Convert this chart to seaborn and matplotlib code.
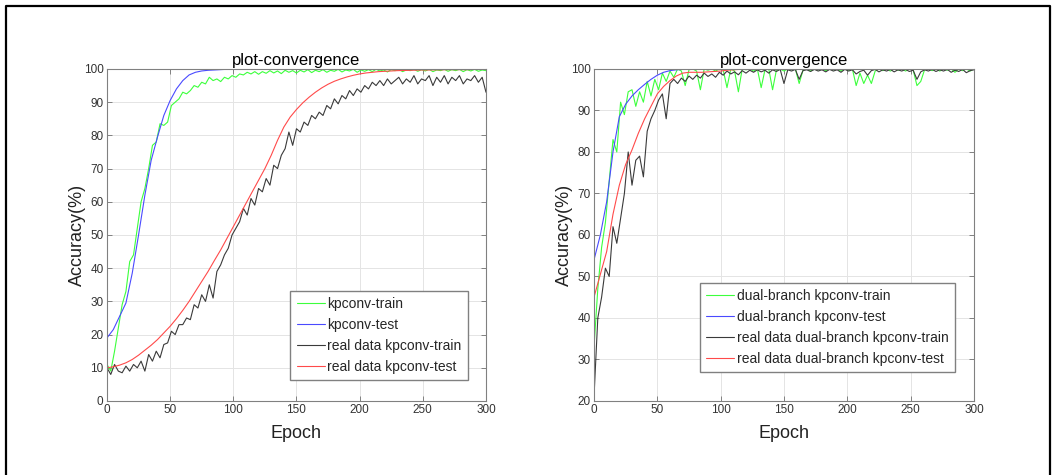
import matplotlib
matplotlib.use('Agg')
import matplotlib.pyplot as plt
import seaborn as sns
from matplotlib.lines import Line2D

sns.set_theme(style='ticks')
plt.rcParams['font.family'] = ['Liberation Sans', 'DejaVu Sans']

# epochs: noisy train curves read every 3 epochs, smooth test curves every 5
epochs_noisy = list(range(0, 301, 3))
epochs_smooth = list(range(0, 301, 5))

# ---- left panel: kpconv ----
kp_train = [11, 9, 15, 22, 29, 33, 42, 44, 52, 60,
            64, 70, 77, 78, 83.5, 83, 84, 89, 90, 91,
            93, 92.5, 93.5, 95, 94.5, 96, 95.5, 97.5, 96.5, 97,
            96.2, 97.5, 97, 98, 97.5, 98.5, 98.2, 99, 98.5, 99.2,
            98.4, 99.2, 98.7, 99.5, 98.8, 99.4, 98.6, 99.6, 99, 99.5,
            98.8, 99.6, 99.1, 99.8, 98.9, 99.6, 99.2, 99.8, 99, 99.6,
            99.3, 99.9, 99.1, 99.7, 99.4, 99.9, 99, 99.7, 99.3, 99.8,
            99.2, 99.9, 99.4, 99.7, 99.1, 99.8, 99.5, 99.9, 99.2, 99.7,
            99.5, 99.9, 99.3, 99.8, 99.4, 99.9, 99.2, 99.7, 99.5, 99.9,
            99.3, 99.8, 99.5, 99.9, 99.2, 99.8, 99.4, 99.9, 99.3, 99.7,
            99.5]
kp_test = [19, 21.5, 25.5, 29.5, 38.5, 50, 62, 72.5, 79.5, 86,
           90.5, 94, 96.5, 98.2, 99, 99.4, 99.6, 99.7, 99.8, 99.9,
           100, 100, 100, 100, 100, 100, 100, 100, 100, 100,
           100, 100, 100, 100, 100, 100, 100, 100, 100, 100,
           100, 100, 100, 100, 100, 100, 100, 100, 100, 100,
           100, 100, 100, 100, 100, 100, 100, 100, 100, 100,
           100]
real_kp_train = [10, 8, 11, 9, 8.5, 10.5, 9, 11, 10, 12,
                 9, 14, 12, 15, 13, 17, 17.5, 21, 20, 23,
                 23, 25, 24.5, 29, 28, 32, 30, 35, 31, 39,
                 41, 44, 46, 50, 52, 54, 58, 56, 61, 59,
                 64, 63, 67, 65, 71, 70, 74, 76, 81, 77,
                 82, 81, 84, 83, 86, 85, 87, 86, 89, 88,
                 91, 89.5, 92, 91, 93.5, 92, 94, 93, 95, 94,
                 96, 95, 96.5, 95, 97, 95.5, 96.5, 97.5, 95.5, 97,
                 96, 98, 95.5, 97, 96.5, 98, 95, 97.5, 96, 98,
                 95.5, 97.5, 96.5, 98, 95.5, 97, 96.5, 98, 96, 97.5,
                 93]
real_kp_test = [10, 10.3, 10.8, 11.5, 12.5, 13.8, 15.3, 16.8, 18.5, 20.5,
                22.5, 24.8, 27.3, 30, 33, 36, 39, 42.3, 45.5, 49,
                52.5, 56, 59.5, 63, 66.5, 70, 74, 78.5, 82.5, 85.5,
                87.8, 89.8, 91.5, 93, 94.3, 95.4, 96.3, 97, 97.6, 98.1,
                98.5, 98.8, 99, 99.2, 99.3, 99.4, 99.5, 99.55, 99.6, 99.65,
                99.7, 99.7, 99.75, 99.75, 99.8, 99.8, 99.8, 99.8, 99.85, 99.85,
                99.85]

# ---- right panel: dual-branch kpconv ----
db_train = [33, 47, 57, 63, 73, 83, 80, 92, 89, 94.5,
            95, 91, 94.5, 92, 97, 93.5, 97.5, 95, 99, 97,
            99.5, 98, 100, 99.5, 96, 99.8, 100, 99.5, 95, 100,
            99.7, 100, 99.5, 100, 99.8, 95.5, 100, 99.5, 94.5, 100,
            99.8, 100, 99.5, 100, 95.5, 99.8, 100, 95, 99.7, 100,
            99.5, 100, 99.8, 100, 96.5, 99.7, 100, 99.5, 100, 99.8,
            100, 99.6, 100, 99.8, 100, 99.5, 100, 99.7, 100, 96,
            99, 96.5, 98.5, 96.5, 99.5, 100, 99.6, 100, 99.5, 100,
            99.7, 100, 99.5, 100, 99.8, 96, 97, 99.8, 100, 99.6,
            100, 99.5, 100, 99.7, 100, 99.2, 100, 99.6, 100, 99.5,
            100]
db_test = [54, 60, 68, 80, 88.5, 91.5, 93.5, 95, 96.3, 97.5,
           98.5, 99.2, 99.6, 99.8, 99.9, 100, 100, 100, 100, 100,
           100, 100, 100, 100, 100, 100, 100, 100, 100, 100,
           100, 100, 100, 100, 100, 100, 100, 100, 100, 100,
           100, 100, 100, 100, 100, 100, 100, 100, 100, 100,
           100, 100, 100, 100, 100, 100, 100, 100, 100, 100,
           100]
real_db_train = [21, 40, 45, 52, 50, 62, 58, 64, 70, 80,
                 72, 78, 79, 74, 85, 88, 90, 92.5, 94, 88,
                 96.5, 97.5, 96.5, 97.8, 97, 98.3, 97.5, 98.5, 97.8, 99,
                 98.2, 98.8, 98, 99.2, 98.5, 99.5, 98.8, 99.3, 98.6, 99.6,
                 99, 99.7, 99.2, 99.8, 99.3, 99.7, 99, 99.8, 99.4, 99.9,
                 96.5, 99.8, 99.5, 99.9, 97.5, 99.6, 99.8, 99.4, 99.9, 99.5,
                 99.8, 99.3, 99.9, 99.5, 99.8, 99.2, 99.9, 99.5, 99.8, 98.8,
                 99.4, 99.7, 98.5, 99.6, 99.9, 99.3, 99.8, 99.5, 99.9, 99.3,
                 99.8, 99.5, 99.9, 99.4, 99.7, 97.5, 99.3, 99.8, 99.5, 99.9,
                 99.4, 99.8, 99.5, 99.9, 99.2, 99.7, 99.4, 99.9, 99.1, 99.6,
                 99.8]
real_db_test = [45, 50.5, 56, 65, 72, 77, 80.5, 84.5, 88, 91,
                94, 95.8, 97.2, 98.3, 99, 99.2, 99.2, 99.2, 99.3, 99.4,
                99.5, 99.7, 99.8, 99.9, 100, 100, 100, 100, 100, 100,
                100, 100, 100, 100, 100, 100, 100, 100, 100, 100,
                100, 100, 100, 100, 100, 100, 100, 100, 100, 100,
                100, 100, 100, 100, 100, 100, 100, 100, 100, 100,
                100]

left_labels = ['kpconv-train', 'kpconv-test',
               'real data kpconv-train', 'real data kpconv-test']
right_labels = ['dual-branch kpconv-train', 'dual-branch kpconv-test',
                'real data dual-branch kpconv-train', 'real data dual-branch kpconv-test']

GREEN = '#3cff3c'
BLUE = '#4a4aff'
BLACK = '#3a3a3a'
RED = '#ff4a4a'
EDGE = '#808080'


def draw_panel(ax, train, test, rtrain, rtest, labels, ylo, anchor):
    sns.lineplot(x=epochs_noisy, y=train, ax=ax, color=GREEN, lw=0.8, label=labels[0])
    sns.lineplot(x=epochs_smooth, y=test, ax=ax, color=BLUE, lw=0.8, label=labels[1])
    sns.lineplot(x=epochs_noisy, y=rtrain, ax=ax, color=BLACK, lw=0.8, label=labels[2])
    sns.lineplot(x=epochs_smooth, y=rtest, ax=ax, color=RED, lw=0.8, label=labels[3])

    ax.set_xlim(0, 300)
    ax.set_ylim(ylo, 100)
    ax.set_xticks(range(0, 301, 50))
    ax.set_yticks(range(ylo, 101, 10))
    ax.grid(True, color='#e4e4e4', lw=0.7)
    ax.set_axisbelow(True)
    for sp in ax.spines.values():
        sp.set_visible(True)
        sp.set_color(EDGE)
        sp.set_linewidth(0.8)
    ax.tick_params(direction='in', top=True, right=True, length=3.5,
                   width=0.7, color=EDGE, labelsize=8.5, labelcolor='#333333', pad=2.5)

    ax.set_title('plot-convergence', fontsize=12, pad=3, color='black')
    ax.set_xlabel('Epoch', fontsize=13, labelpad=6, color='#222222')
    ax.set_ylabel('Accuracy(%)', fontsize=13, color='#222222')
    ax.yaxis.set_label_coords(-0.055, 0.5)

    ax.legend(loc='lower right', bbox_to_anchor=anchor, borderaxespad=0,
              frameon=True, fancybox=False, edgecolor=EDGE, framealpha=1,
              fontsize=10, handlelength=2.0, handletextpad=0.2,
              labelspacing=0.5, borderpad=0.45)


fig = plt.figure(figsize=(10.56, 4.75), dpi=100)
ax1 = fig.add_axes([0.1013, 0.1558, 0.3589, 0.699])
ax2 = fig.add_axes([0.5625, 0.1558, 0.3598, 0.699])

draw_panel(ax1, kp_train, kp_test, real_kp_train, real_kp_test, left_labels, 0, (0.952, 0.063))
draw_panel(ax2, db_train, db_test, real_db_train, real_db_test, right_labels, 20, (0.95, 0.087))

# outer frame (open at the bottom, as in the source image)
fx0, fx1, fy = 6 / 1056, 1050 / 1056, 1 - 6 / 475
fig.add_artist(Line2D([fx0, fx0, fx1, fx1], [0, fy, fy, 0],
                      transform=fig.transFigure, color='black', lw=1.6))

fig.savefig('out.png', dpi=100)
